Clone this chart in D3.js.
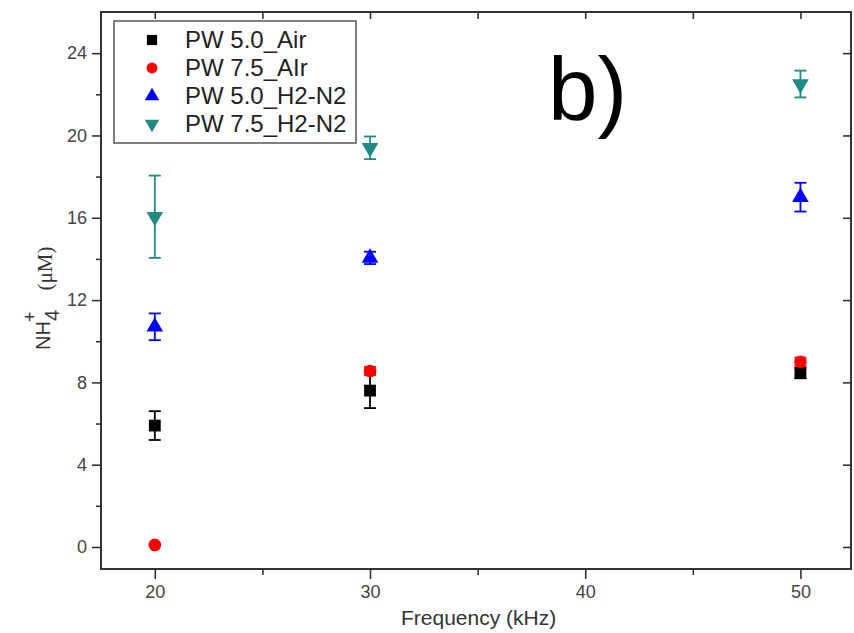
<!DOCTYPE html>
<html>
<head>
<meta charset="utf-8">
<script src="https://cdn.jsdelivr.net/npm/d3@7"></script>
<style>
  body { margin: 0; background: #fff; }
  svg { display: block; }
  text { font-family: "Liberation Sans", Arial, sans-serif; }
</style>
</head>
<body>
<div id="chart"></div>
<script>
//Data
const frequencies = [20, 30, 50];
const seriesNames = ["PW 5.0_Air", "PW 7.5_AIr", "PW 5.0_H2-N2", "PW 7.5_H2-N2"];
const air50 = [5.9, 7.6, 8.45];
const air50Err = [0.7, 0.85, 0.25];
const air75 = [0.1, 8.55, 9.0];
const air75Err = [0.0, 0.2, 0.2];
const h2n2_50 = [10.7, 14.05, 17.0];
const h2n2_50Err = [0.65, 0.3, 0.7];
const h2n2_75 = [16.05, 19.4, 22.5];
const h2n2_75Err = [2.0, 0.55, 0.65];
const yTicks = [0, 4, 8, 12, 16, 20, 24];
const yMinorTicks = [2, 6, 10, 14, 18, 22];
const xTicks = [20, 30, 40, 50];
const xMinorTicks = [25, 35, 45];

//Styles per series
const colours = ["#000000", "#ff0000", "#0000ff", "#1f8a86"];
const shapes = ["square", "circle", "up", "down"];

const width = 854;
const height = 633;
const plot = { left: 101, right: 851, top: 12, bottom: 569 };

const svg = d3.select("#chart")
    .append("svg")
    .attr("width", width)
    .attr("height", height);

const x = d3.scaleLinear().domain([17.5, 52.35]).range([plot.left, plot.right]);
const y = d3.scaleLinear().domain([-1.07, 26.0]).range([plot.bottom, plot.top]);

//Build series table
const values = [air50, air75, h2n2_50, h2n2_75];
const errors = [air50Err, air75Err, h2n2_50Err, h2n2_75Err];
const series = seriesNames.map((name, i) => ({
    name: name,
    colour: colours[i],
    shape: shapes[i],
    points: frequencies.map((f, j) => ({ f: f, v: values[i][j], e: errors[i][j] }))
}));

function symbolPath(shape, scale) {
    if (shape == "square") return d3.symbol(d3.symbolSquare, 140 * scale)();
    if (shape == "circle") return d3.symbol(d3.symbolCircle, 125 * scale)();
    return d3.symbol(d3.symbolTriangle, 120 * scale)();
}

//Axes
const axisColour = "#333";
function styleAxis(g) {
    g.select(".domain").remove();
    g.selectAll(".tick line").attr("stroke", axisColour).attr("stroke-width", 1.6);
    g.selectAll(".tick text").attr("fill", "#444").style("font-size", "18px");
}

svg.append("g")
    .attr("transform", `translate(${plot.left},0)`)
    .call(d3.axisLeft(y).tickValues(yTicks).tickSize(9).tickPadding(5).tickFormat(d3.format("d")))
    .call(styleAxis);
svg.append("g")
    .attr("transform", `translate(${plot.left},0)`)
    .call(d3.axisLeft(y).tickValues(yMinorTicks).tickSize(5).tickFormat(""))
    .call(styleAxis);

svg.append("g")
    .attr("transform", `translate(0,${plot.bottom})`)
    .call(d3.axisBottom(x).tickValues(xTicks).tickSize(10).tickPadding(6).tickFormat(d3.format("d")))
    .call(styleAxis);
svg.append("g")
    .attr("transform", `translate(0,${plot.bottom})`)
    .call(d3.axisBottom(x).tickValues(xMinorTicks).tickSize(6).tickFormat(""))
    .call(styleAxis);

//mirrored ticks on top and right, pointing inward
svg.append("g")
    .attr("transform", `translate(0,${plot.top})`)
    .call(d3.axisBottom(x).tickValues(xTicks.concat(xMinorTicks)).tickSize(7).tickFormat(""))
    .call(styleAxis);
svg.append("g")
    .attr("transform", `translate(${plot.right},0)`)
    .call(d3.axisLeft(y).tickValues(yTicks).tickSize(8).tickFormat(""))
    .call(styleAxis);

svg.append("rect")
    .attr("x", plot.left)
    .attr("y", plot.top)
    .attr("width", plot.right - plot.left)
    .attr("height", plot.bottom - plot.top)
    .attr("fill", "none")
    .attr("stroke", axisColour)
    .attr("stroke-width", 2);

//Axis labels
svg.append("text")
    .attr("x", (x(20) + x(50)) / 2 + 1)
    .attr("y", 625)
    .attr("text-anchor", "middle")
    .attr("fill", "#333")
    .style("font-size", "21px")
    .text("Frequency (kHz)");

//NH4+ with stacked sub/superscript, then (uM) in a serif face
const yLabel = svg.append("text")
    .attr("transform", "translate(50,350) rotate(-90)")
    .attr("fill", "#333")
    .style("font-size", "20px");
yLabel.append("tspan").text("NH");
yLabel.append("tspan").attr("dy", 9).text("4");
yLabel.append("tspan").attr("dx", -12).attr("dy", -23).style("font-size", "18px").text("+");
yLabel.append("tspan")
    .attr("dx", 21).attr("dy", 16)
    .style("font-family", "'Liberation Serif', 'DejaVu Serif', serif")
    .style("font-size", "21px")
    .text("(\u03bcM)");

//Panel label
svg.append("text")
    .attr("x", 548)
    .attr("y", 120)
    .attr("fill", "#000")
    .style("font-size", "89px")
    .text("b)");

//Error bars and markers
const groups = svg.selectAll(".series")
    .data(series)
    .enter().append("g")
    .attr("class", "series");

const bars = groups.selectAll(".err")
    .data(d => d.points.filter(p => p.e > 0).map(p => Object.assign({ colour: d.colour }, p)))
    .enter().append("g")
    .attr("class", "err")
    .attr("stroke", d => d.colour)
    .attr("stroke-width", 1.8);
bars.append("line")
    .attr("x1", d => x(d.f)).attr("x2", d => x(d.f))
    .attr("y1", d => y(d.v - d.e)).attr("y2", d => y(d.v + d.e));
bars.append("line")
    .attr("x1", d => x(d.f) - 6).attr("x2", d => x(d.f) + 6)
    .attr("y1", d => y(d.v - d.e)).attr("y2", d => y(d.v - d.e));
bars.append("line")
    .attr("x1", d => x(d.f) - 6).attr("x2", d => x(d.f) + 6)
    .attr("y1", d => y(d.v + d.e)).attr("y2", d => y(d.v + d.e));

groups.selectAll(".marker")
    .data(d => d.points.map(p => Object.assign({ colour: d.colour, shape: d.shape }, p)))
    .enter().append("path")
    .attr("class", "marker")
    .attr("d", d => symbolPath(d.shape, 1))
    .attr("transform", d => `translate(${x(d.f)},${y(d.v)})` + (d.shape == "down" ? " rotate(180)" : ""))
    .attr("fill", d => d.colour);

//Legend
const legend = svg.append("g").attr("class", "legend");
legend.append("rect")
    .attr("x", 114).attr("y", 21)
    .attr("width", 242).attr("height", 122)
    .attr("fill", "#fff")
    .attr("stroke", "#555")
    .attr("stroke-width", 1.5);

const rows = legend.selectAll(".row")
    .data(series)
    .enter().append("g")
    .attr("class", "row")
    .attr("transform", (d, i) => `translate(0,${40 + i * 28})`);
rows.append("path")
    .attr("d", d => symbolPath(d.shape, 0.75))
    .attr("transform", d => "translate(152,0)" + (d.shape == "down" ? " rotate(180)" : ""))
    .attr("fill", d => d.colour);
rows.append("text")
    .attr("x", 185)
    .attr("y", 8)
    .attr("fill", "#222")
    .style("font-size", "24px")
    .text(d => d.name);
</script>
</body>
</html>
